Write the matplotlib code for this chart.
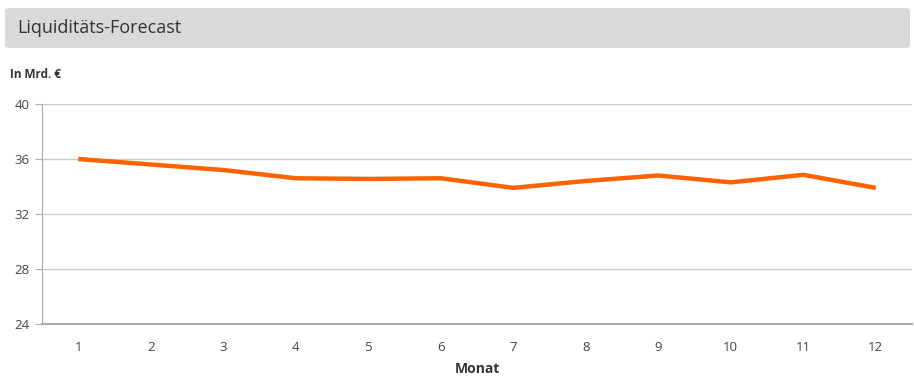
import matplotlib
matplotlib.use('Agg')
import matplotlib.pyplot as plt
from matplotlib.patches import FancyBboxPatch

months = list(range(1, 13))
liquidity = [36.0, 35.6, 35.2, 34.6, 34.55, 34.6, 33.9, 34.4, 34.8, 34.3, 34.85, 33.9]
yticks = [24, 28, 32, 36, 40]

plt.rcParams['font.family'] = ['Open Sans', 'DejaVu Sans']

W, H = 914, 376
fig = plt.figure(figsize=(W / 100, H / 100), dpi=100)

# grey title bar
bar = FancyBboxPatch((5 / W, 1 - 48 / H), 905 / W, 40 / H,
                     boxstyle='round,pad=0,rounding_size=0.006',
                     transform=fig.transFigure, facecolor='#d9d9d9',
                     edgecolor='none')
fig.patches.append(bar)
fig.text(17 / W, 1 - 28 / H, 'Liquiditäts-Forecast', fontsize=13,
         color='#333333', va='center', ha='left')
fig.text(10 / W, 1 - 75 / H, 'In Mrd. €', fontsize=8.5, fontweight='bold',
         color='#333333', va='center', ha='left')

ax = fig.add_axes([42 / W, 1 - 324 / H, 870 / W, 220 / H])
ax.plot(months, liquidity, color='#ff6200', linewidth=3.2,
        solid_capstyle='butt', solid_joinstyle='round', zorder=3)

ax.set_xlim(0.5, 12.5)
ax.set_ylim(24, 40)
ax.set_yticks(yticks)
ax.set_xticks(months)
ax.grid(axis='y', color='#cccccc', linewidth=1)
ax.set_axisbelow(True)

for s in ['top', 'right']:
    ax.spines[s].set_visible(False)
ax.spines['left'].set_color('#aaaaaa')
ax.spines['bottom'].set_color('#aaaaaa')
ax.spines['bottom'].set_linewidth(1.5)

ax.tick_params(axis='y', length=5, color='#aaaaaa', labelsize=9.5,
               labelcolor='#444444', pad=4)
ax.tick_params(axis='x', length=0, labelsize=9.5, labelcolor='#444444', pad=12)

ax.set_xlabel('Monat', fontsize=10, fontweight='bold', color='#333333',
              labelpad=6)

fig.savefig('out.png', dpi=100)
